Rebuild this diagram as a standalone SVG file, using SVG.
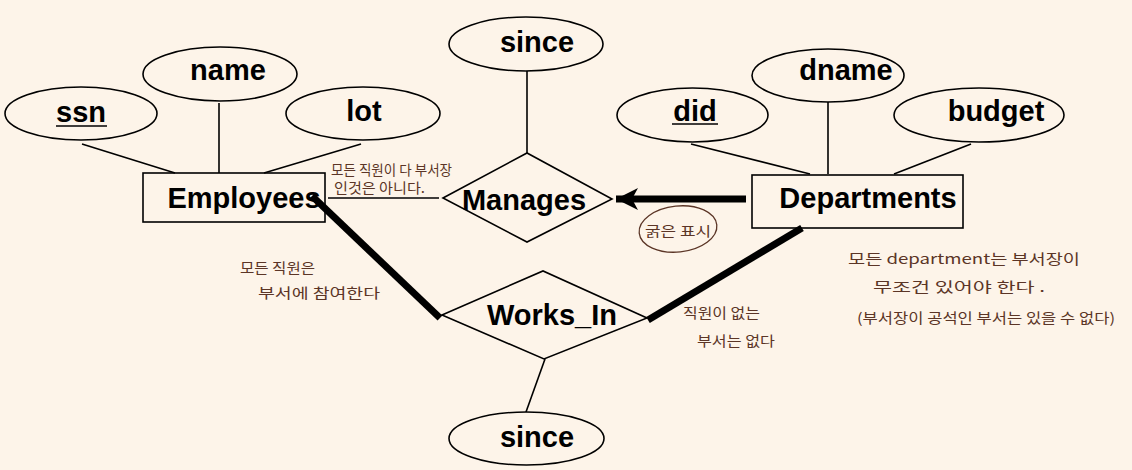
<svg xmlns="http://www.w3.org/2000/svg" width="1132" height="470" viewBox="0 0 1132 470">
<style>
.attr{fill:none;stroke:#000;stroke-width:1.6}
.ent{fill:none;stroke:#000;stroke-width:1.6}
.rel{fill:none;stroke:#000;stroke-width:1.6}
.ln{stroke:#000;stroke-width:1.6;fill:none}
.thick{stroke:#000;stroke-width:7;fill:none}
.lbl{font-family:"Liberation Sans",Arial,sans-serif;font-weight:bold;font-size:29px;fill:#000;text-anchor:middle}
.note{font-family:"Noto Sans CJK KR","Noto Sans",sans-serif;fill:#5b3526;font-size:14px}
</style>
<defs>
<marker id="ah" markerUnits="userSpaceOnUse" markerWidth="24" markerHeight="22" refX="22" refY="11" orient="auto">
<path d="M0,0 L22,11 L0,22 L6,11 Z" fill="#000"/>
</marker>
</defs>
<rect width="1132" height="470" fill="#fdf4e9"/>

<g id="connectors">
<line class="ln" x1="82" y1="144" x2="175" y2="173"/>
<line class="ln" x1="219" y1="103" x2="219" y2="173"/>
<line class="ln" x1="361" y1="144" x2="264" y2="173"/>
<line class="ln" x1="691" y1="144" x2="810" y2="174"/>
<line class="ln" x1="828" y1="102" x2="828" y2="174"/>
<line class="ln" x1="971" y1="144" x2="894" y2="174"/>
<line class="ln" x1="527" y1="71" x2="527" y2="153"/>
<line class="ln" x1="545" y1="359" x2="526" y2="412"/>
<line class="ln" x1="328" y1="198" x2="439" y2="198"/>
<line class="thick" x1="746" y1="199" x2="616" y2="199" marker-end="url(#ah)"/>
<line class="thick" x1="312" y1="196" x2="440" y2="318"/>
<line class="thick" x1="802" y1="228" x2="648" y2="320"/>
</g>

<g id="ssn"><ellipse class="attr" cx="81" cy="113.5" rx="76" ry="26.5"/><text class="lbl" x="81" y="122">ssn</text><line class="ln" x1="56" y1="126" x2="107" y2="126" stroke-width="1.8"/></g>
<g id="name"><ellipse class="attr" cx="220" cy="74" rx="77" ry="27"/><text class="lbl" x="228" y="80">name</text></g>
<g id="lot"><ellipse class="attr" cx="363" cy="113.5" rx="77" ry="26.5"/><text class="lbl" x="364" y="121">lot</text></g>
<g id="since_manages"><ellipse class="attr" cx="526" cy="44" rx="77" ry="27"/><text class="lbl" x="537" y="52">since</text></g>
<g id="employees"><rect class="ent" x="143" y="173" width="182" height="49"/><text class="lbl" x="244" y="208">Employees</text></g>
<g id="manages"><polygon class="rel" points="443,198 527,153 612,199 527,242"/><text class="lbl" x="524" y="210">Manages</text></g>
<g id="did"><ellipse class="attr" cx="692.5" cy="115" rx="75.5" ry="27"/><text class="lbl" x="695" y="121">did</text><line class="ln" x1="672" y1="124" x2="718" y2="124" stroke-width="1.8"/></g>
<g id="dname"><ellipse class="attr" cx="828" cy="75.5" rx="76" ry="26.5"/><text class="lbl" x="846" y="80">dname</text></g>
<g id="budget"><ellipse class="attr" cx="979" cy="115" rx="85" ry="27"/><text class="lbl" x="996" y="121">budget</text></g>
<g id="departments"><rect class="ent" x="752" y="175" width="211" height="53"/><text class="lbl" x="868" y="208">Departments</text></g>
<g id="works_in"><polygon class="rel" points="442,315 543,271 647,318 544,359"/><text class="lbl" x="552" y="325">Works_In</text></g>
<g id="since_works"><ellipse class="attr" cx="526.5" cy="438.5" rx="77.5" ry="26.5"/><text class="lbl" x="537" y="447">since</text></g>

<g id="notes">
<text class="note" x="331" y="175" font-size="13" textLength="121" lengthAdjust="spacingAndGlyphs">모든 직원이 다 부서장</text>
<text class="note" x="334" y="193" font-size="14" textLength="91" lengthAdjust="spacingAndGlyphs">인것은 아니다.</text>
<text class="note" x="240" y="273" font-size="17" textLength="75" lengthAdjust="spacingAndGlyphs">모든 직원은</text>
<text class="note" x="258" y="298" font-size="17" textLength="122" lengthAdjust="spacingAndGlyphs">부서에 참여한다</text>
<ellipse cx="678" cy="229" rx="39" ry="23" fill="none" stroke="#5b3526" stroke-width="1.3" transform="rotate(-6 678 229)"/>
<text class="note" x="645" y="236" font-size="17" textLength="66" lengthAdjust="spacingAndGlyphs">굵은 표시</text>
<text class="note" x="683" y="318" font-size="16" textLength="77" lengthAdjust="spacingAndGlyphs">직원이 없는</text>
<text class="note" x="697" y="346" font-size="16" textLength="78" lengthAdjust="spacingAndGlyphs">부서는 없다</text>
<text class="note" x="848" y="264" font-size="19" textLength="232" lengthAdjust="spacingAndGlyphs">모든 department는  부서장이</text>
<text class="note" x="873" y="292" font-size="19" textLength="172" lengthAdjust="spacingAndGlyphs">무조건  있어야 한다 .</text>
<text class="note" x="857" y="323" font-size="19" textLength="258" lengthAdjust="spacingAndGlyphs">(부서장이  공석인 부서는 있을 수 없다)</text>
</g>
</svg>
